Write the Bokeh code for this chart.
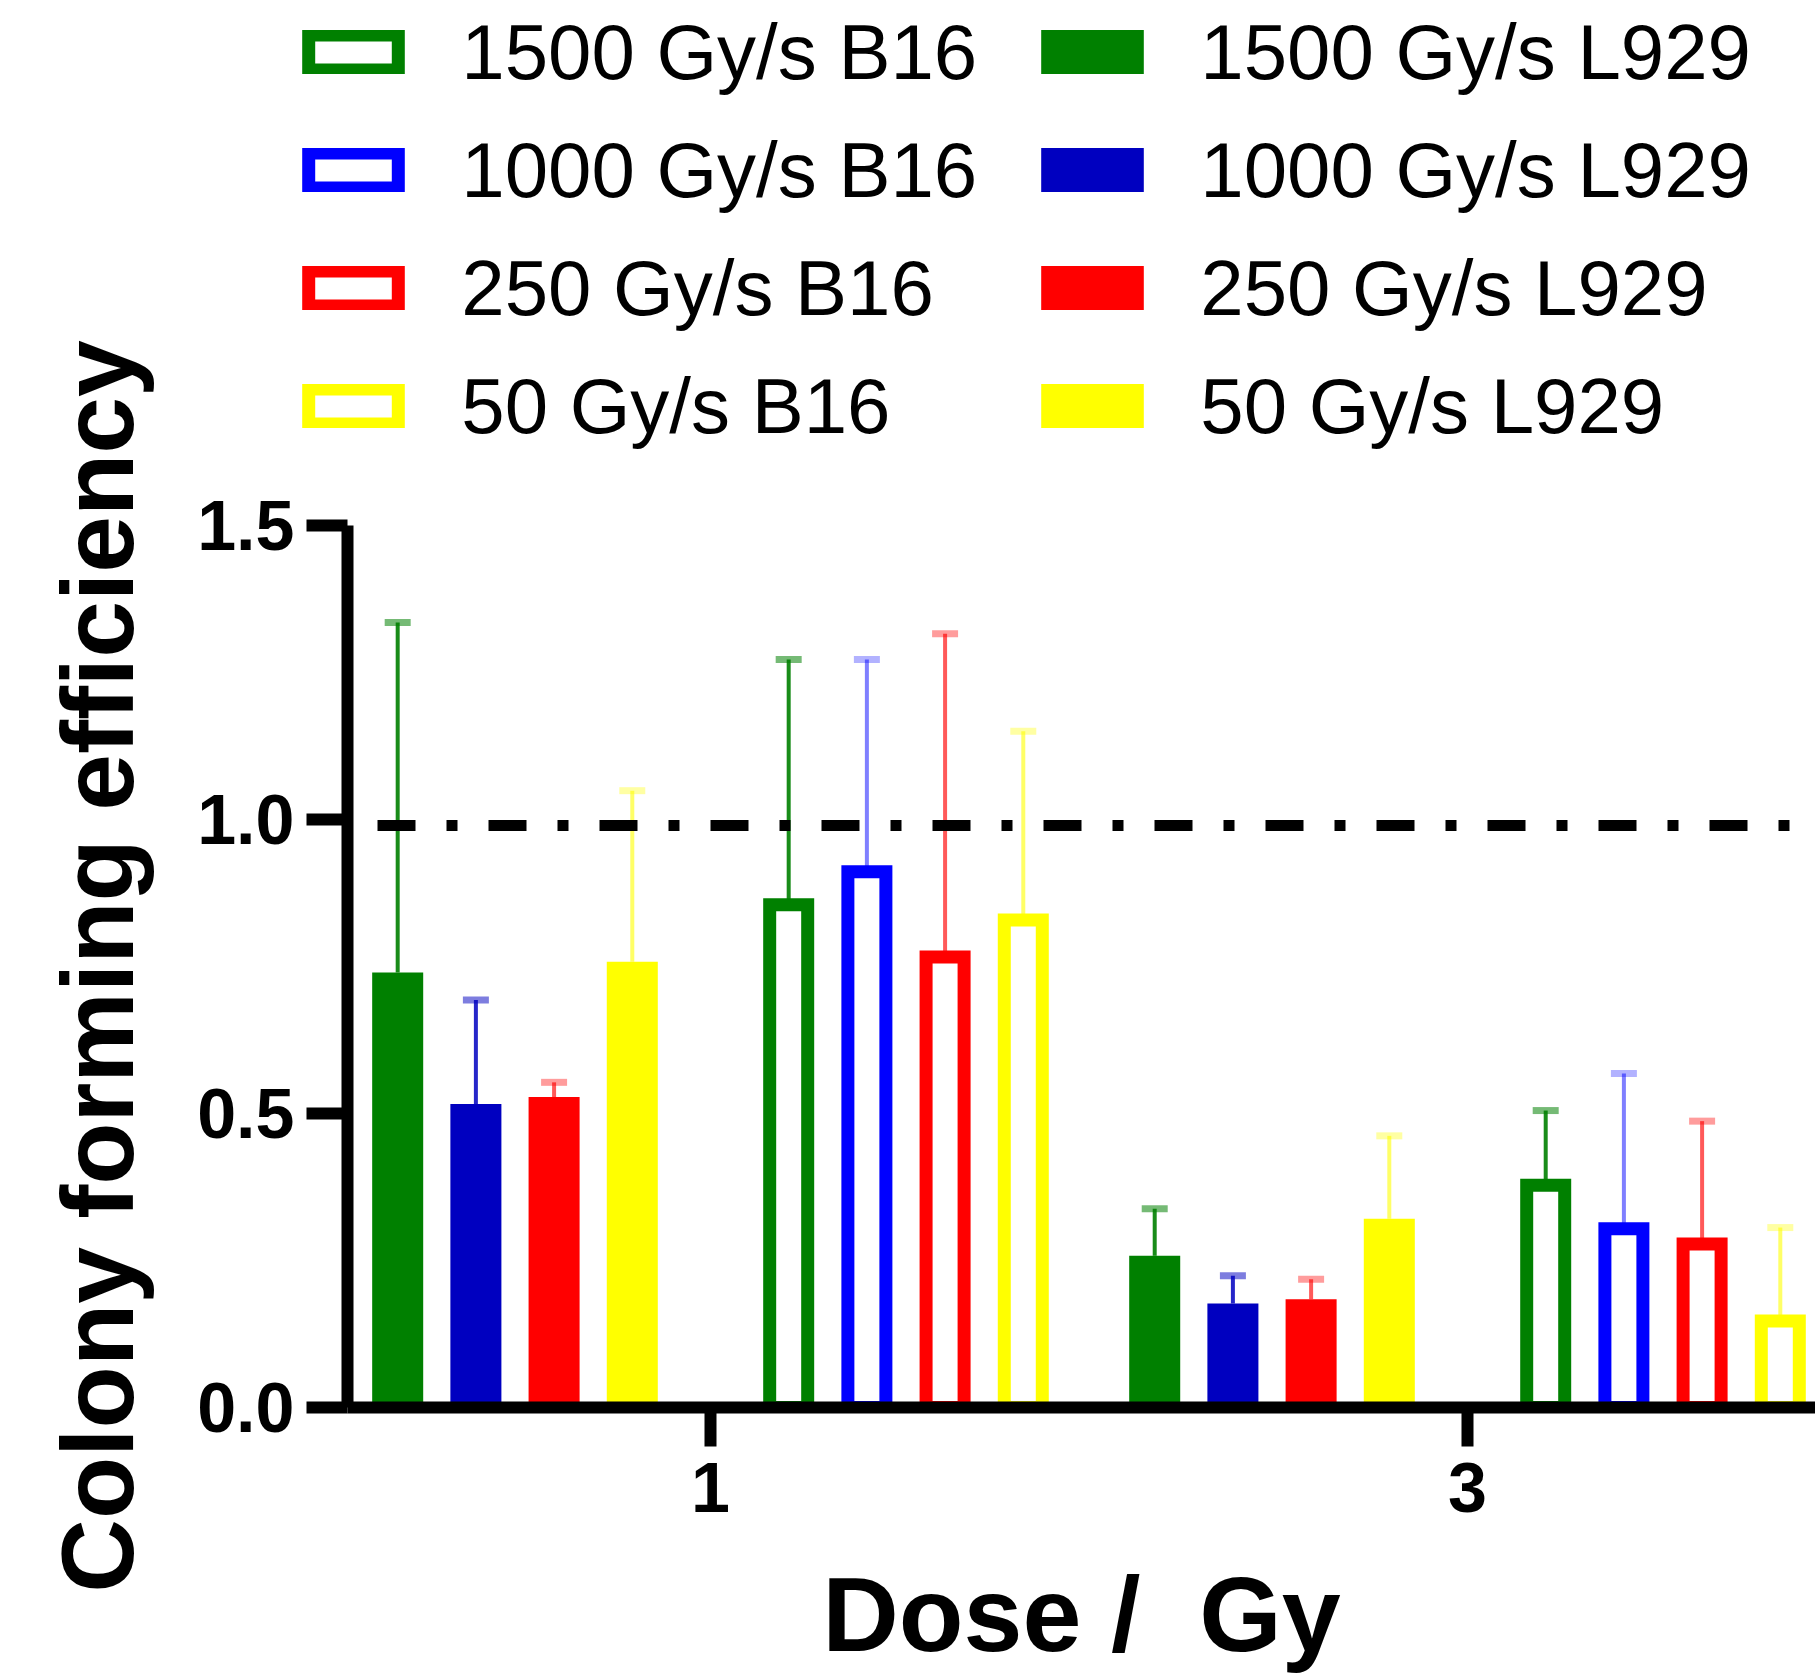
from bokeh.plotting import figure
from bokeh.layouts import column, row
from bokeh.models import (Range1d, FixedTicker, Span, Whisker, TeeHead, ColumnDataSource,
                          Legend, LegendItem, NumeralTickFormatter, Plot)
from bokeh.embed import file_html
from bokeh.resources import INLINE

# ---------------- data ----------------
doses = ["1", "3"]
rates = ["1500 Gy/s", "1000 Gy/s", "250 Gy/s", "50 Gy/s"]

# L929 (filled bars): mean colony forming efficiency at dose 1 and 3 Gy, and upper error
l929_mean_1500 = [0.740, 0.258]
l929_err_1500 = [0.595, 0.080]
l929_mean_1000 = [0.516, 0.177]
l929_err_1000 = [0.177, 0.047]
l929_mean_250 = [0.528, 0.184]
l929_err_250 = [0.025, 0.034]
l929_mean_50 = [0.758, 0.321]
l929_err_50 = [0.291, 0.141]

# B16 (open bars)
b16_mean_1500 = [0.855, 0.378]
b16_err_1500 = [0.417, 0.127]
b16_mean_1000 = [0.911, 0.304]
b16_err_1000 = [0.361, 0.264]
b16_mean_250 = [0.766, 0.278]
b16_err_250 = [0.550, 0.209]
b16_mean_50 = [0.829, 0.147]
b16_err_50 = [0.321, 0.159]

ref_level = 0.99

l929_means = [l929_mean_1500, l929_mean_1000, l929_mean_250, l929_mean_50]
l929_errs = [l929_err_1500, l929_err_1000, l929_err_250, l929_err_50]
b16_means = [b16_mean_1500, b16_mean_1000, b16_mean_250, b16_mean_50]
b16_errs = [b16_err_1500, b16_err_1000, b16_err_250, b16_err_50]

# ---------------- style / layout ----------------
l929_colors = ["#008000", "#0000C0", "#FF0000", "#FFFF00"]
b16_colors = ["#008000", "#0000FF", "#FF0000", "#FFFF00"]
err_alpha_l929 = [0.9, 0.85, 0.65, 0.6]
err_alpha_b16 = [0.9, 0.5, 0.65, 0.6]
SLOT = 0.1033
FILLED_W = 0.0674
HOLLOW_W = 0.0502
FONT = "Liberation Sans"
W, H = 1815, 1680
LEFT_W = 170      # strip holding the y-axis title
TOP_H = 460       # strip holding the legend
FRAME_LEFT = 347
FRAME_TOP = 525
FRAME_BOTTOM_GAP = 273

HAS_FRAME_ALIGN = "frame_align" in Plot.properties()


def no_align(fig):
    if HAS_FRAME_ALIGN:
        fig.frame_align = False


def bare(fig):
    fig.xgrid.visible = False
    fig.ygrid.visible = False
    fig.outline_line_color = None


# ---------------- main chart ----------------
p = figure(width=W - LEFT_W, height=H - TOP_H, output_backend="svg", toolbar_location=None,
           x_range=Range1d(-0.4795, 1.4597), y_range=Range1d(0, 1.5),
           min_border_left=FRAME_LEFT - LEFT_W, min_border_right=0,
           min_border_top=FRAME_TOP - TOP_H, min_border_bottom=FRAME_BOTTOM_GAP)
bare(p)
no_align(p)

sources_l929 = []
sources_b16 = []


def make_source(means, errs, slot):
    xs = [i + slot * SLOT for i in range(len(doses))]
    return ColumnDataSource(dict(
        x=xs, top=means, lower=means,
        upper=[m + e for m, e in zip(means, errs)],
        dose=doses))


for k in range(4):
    src = make_source(l929_means[k], l929_errs[k], -4 + k)
    sources_l929.append(src)
    p.vbar(x="x", top="top", bottom=0, width=FILLED_W, source=src,
           fill_color=l929_colors[k], line_color=None)
    p.add_layout(Whisker(base="x", upper="upper", lower="lower", source=src,
                         dimension="height", line_color=l929_colors[k],
                         line_alpha=err_alpha_l929[k], line_width=4,
                         upper_head=TeeHead(size=26, line_color=l929_colors[k],
                                            line_alpha=err_alpha_l929[k] * 0.6, line_width=7),
                         lower_head=None, level="underlay"))

    src2 = make_source(b16_means[k], b16_errs[k], 1 + k)
    sources_b16.append(src2)
    p.vbar(x="x", top="top", bottom=0, width=HOLLOW_W, source=src2,
           fill_color="white", line_color=b16_colors[k], line_width=13, line_join="miter")
    p.add_layout(Whisker(base="x", upper="upper", lower="lower", source=src2,
                         dimension="height", line_color=b16_colors[k],
                         line_alpha=err_alpha_b16[k], line_width=4,
                         upper_head=TeeHead(size=26, line_color=b16_colors[k],
                                            line_alpha=err_alpha_b16[k] * 0.6, line_width=7),
                         lower_head=None, level="underlay"))

# reference line at 1.0
p.add_layout(Span(location=ref_level, dimension="width", line_color="black", line_width=11,
                  line_dash="38 31 11 31", line_dash_offset=81))

for ax in (p.xaxis, p.yaxis):
    ax.axis_line_width = 12
    ax.major_tick_line_width = 12
    ax.major_tick_in = 0
    ax.minor_tick_line_color = None
    ax.major_label_text_font = FONT
    ax.major_label_text_font_style = "bold"
    ax.major_label_text_font_size = "70px"
    ax.major_label_text_color = "black"
    ax.axis_label_text_font = FONT
    ax.axis_label_text_font_style = "bold"
    ax.axis_label_text_color = "black"

p.yaxis.ticker = FixedTicker(ticks=[0, 0.5, 1.0, 1.5])
p.yaxis.formatter = NumeralTickFormatter(format="0.0")
p.yaxis.major_tick_out = 41
p.yaxis.major_label_standoff = 12

p.xaxis.ticker = FixedTicker(ticks=list(range(len(doses))))
p.xaxis.major_label_overrides = {i: d for i, d in enumerate(doses)}
p.xaxis.major_tick_out = 39
p.xaxis.major_label_standoff = 16
p.xaxis.axis_label = "Dose / \u00a0Gy"
p.xaxis.axis_label_text_font_size = "106px"
p.xaxis.axis_label_standoff = 40

# ---------------- y-axis title strip ----------------
t = figure(width=LEFT_W, height=H, output_backend="svg", toolbar_location=None,
           x_range=Range1d(0, 1), y_range=Range1d(0, 1.5),
           min_border_left=164, min_border_right=0,
           min_border_top=FRAME_TOP, min_border_bottom=FRAME_BOTTOM_GAP)
bare(t)
no_align(t)
t.xaxis.visible = False
t.yaxis.ticker = FixedTicker(ticks=[])
t.yaxis.axis_line_color = None
t.yaxis.major_tick_out = 0
t.yaxis.major_label_standoff = 0
t.yaxis.minor_tick_line_color = None
t.yaxis.axis_label = "Colony forming efficiency"
t.yaxis.axis_label_text_font = FONT
t.yaxis.axis_label_text_font_style = "bold"
t.yaxis.axis_label_text_font_size = "102px"
t.yaxis.axis_label_text_color = "black"
t.yaxis.axis_label_standoff = 10

# ---------------- legend strip ----------------
lg = figure(width=W - LEFT_W, height=TOP_H, output_backend="svg", toolbar_location=None,
            x_range=Range1d(-0.4795, 1.4597), y_range=Range1d(0, 1.5),
            min_border_left=0, min_border_right=0, min_border_top=0, min_border_bottom=0)
lg.axis.visible = False
bare(lg)
no_align(lg)

items = []
for k in range(4):
    # same data and style as the chart's series; hidden here, only the legend swatch shows
    r = lg.vbar(x="x", top="top", bottom=0, width=HOLLOW_W, source=sources_b16[k],
                fill_color="white", line_color=b16_colors[k], line_width=13,
                line_join="miter", visible=False)
    items.append(LegendItem(label=f"{rates[k]} B16", renderers=[r]))
for k in range(4):
    r = lg.vbar(x="x", top="top", bottom=0, width=FILLED_W, source=sources_l929[k],
                fill_color=l929_colors[k], line_color=l929_colors[k], line_width=13,
                line_join="miter", visible=False)
    items.append(LegendItem(label=f"{rates[k]} L929", renderers=[r]))

legend = Legend(items=items, orientation="vertical", ncols=2, location=(127.25, 5.5),
                padding=0, margin=0, border_line_color=None, background_fill_alpha=0,
                inactive_fill_alpha=0,
                label_text_font=FONT, label_text_font_size="78px", label_text_color="black",
                label_height=97, label_width=554, glyph_width=112, glyph_height=44,
                spacing=21, label_standoff=52)
lg.add_layout(legend)

layout = row(t, column(lg, p, spacing=0), spacing=0)
open("out.html", "w").write(file_html(layout, INLINE))
